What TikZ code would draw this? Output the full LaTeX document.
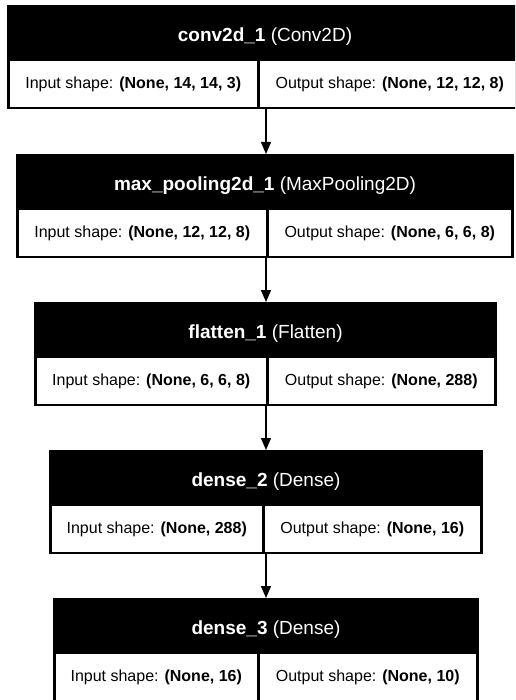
\documentclass[tikz,border=0pt]{standalone}
\usepackage{fontspec}
\setmainfont{Liberation Sans}
\usetikzlibrary{arrows.meta}
\tikzset{
  layerbox/.style={fill=black, draw=none, inner sep=0pt, outer sep=0pt, anchor=north west, minimum height=104pt},
  headtext/.style={text=white, inner sep=0pt, font=\fontsize{19}{22}\selectfont},
  cellbox/.style={fill=white, draw=none, inner sep=0pt, outer sep=0pt, minimum height=46pt, font=\fontsize{16}{19}\selectfont},
  flow/.style={-{Triangle[width=10pt,length=12pt]}, line width=1.4pt}
}
\newcommand{\mylayer}[9]{%
  \node[layerbox, minimum width={(#4)-(#2)}] (#1) at (#2,#3) {};
  \node[headtext] (#1h) at ({((#2)+(#4))/2},{(#3)+32}) {\textbf{#6} #7};
  \node[cellbox, minimum width={(#5)-1.5-(#2)-3}] (#1i) at ({((#2)+3+(#5)-1.5)/2},{(#3)+79}) {Input shape: \textbf{#8}};
  \node[cellbox, minimum width={(#4)-3-(#5)-1.5}] (#1o) at ({((#5)+1.5+(#4)-3)/2},{(#3)+79}) {Output shape: \textbf{#9}};
}
\begin{document}
\begin{tikzpicture}[x=1pt,y=-1pt]
  \path[use as bounding box, clip] (0,0) rectangle (515,700);
  \fill[white] (0,0) rectangle (515,700);
  \mylayer{l1}{7}{5}{523}{258}{conv2d\_1}{(Conv2D)}{(None, 14, 14, 3)}{(None, 12, 12, 8)}
  \mylayer{l2}{16}{154}{514}{267}{max\_pooling2d\_1}{(MaxPooling2D)}{(None, 12, 12, 8)}{(None, 6, 6, 8)}
  \mylayer{l3}{34}{302}{497}{267}{flatten\_1}{(Flatten)}{(None, 6, 6, 8)}{(None, 288)}
  \mylayer{l4}{49}{450}{483}{263}{dense\_2}{(Dense)}{(None, 288)}{(None, 16)}
  \mylayer{l5}{53}{598}{479}{258}{dense\_3}{(Dense)}{(None, 16)}{(None, 10)}
  \coordinate (ax) at (266,0);
  \draw[flow] (l1.south -| ax) -- (l2.north -| ax);
  \draw[flow] (l2.south -| ax) -- (l3.north -| ax);
  \draw[flow] (l3.south -| ax) -- (l4.north -| ax);
  \draw[flow] (l4.south -| ax) -- (l5.north -| ax);
\end{tikzpicture}
\end{document}
